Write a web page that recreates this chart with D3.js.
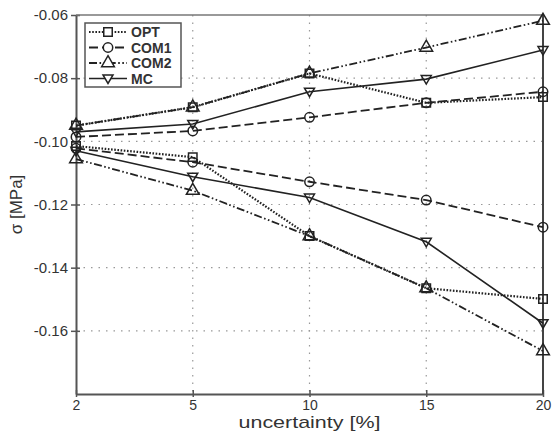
<!DOCTYPE html>
<html>
<head>
<meta charset="utf-8">
<script src="https://cdn.jsdelivr.net/npm/d3@7"></script>
<style>
  body { margin: 0; background: #fff; }
  text { font-family: "Liberation Sans", Arial, sans-serif; fill: #333; }
</style>
</head>
<body>
<svg id="chart" width="557" height="434"></svg>
<script>
// datos
var categorias = ["2", "5", "10", "15", "20"];
var yTicks = [-0.06, -0.08, -0.10, -0.12, -0.14, -0.16];

var optSup  = [-0.0950, -0.0892, -0.0785, -0.0878, -0.0860];
var optInf  = [-0.1015, -0.1050, -0.1300, -0.1465, -0.1499];
var com1Sup = [-0.0986, -0.0967, -0.0924, -0.0878, -0.0843];
var com1Inf = [-0.1022, -0.1066, -0.1128, -0.1186, -0.1272];
var com2Sup = [-0.0950, -0.0892, -0.0785, -0.0703, -0.0618];
var com2Inf = [-0.1056, -0.1156, -0.1300, -0.1465, -0.1664];
var mcSup   = [-0.0970, -0.0945, -0.0843, -0.0803, -0.0711];
var mcInf   = [-0.1030, -0.1112, -0.1178, -0.1318, -0.1576];

var series = [
  { nombre: "OPT",  dash: "1.6,1.6", ancho: 2.2, marca: "square",   datos: [optSup, optInf] },
  { nombre: "COM1", dash: "9,4",     ancho: 1.8, marca: "circle",   datos: [com1Sup, com1Inf] },
  { nombre: "COM2", dash: "8,2.5,1.6,2.5,1.6,2.5", ancho: 1.8, marca: "triangle", datos: [com2Sup, com2Inf] },
  { nombre: "MC",   dash: null,      ancho: 1.6, marca: "triDown",  datos: [mcSup, mcInf] }
];

var margin = { top: 15, right: 14, bottom: 40, left: 76 };
var width = 557, height = 434;
var svg = d3.select("#chart");
var g = svg.append("g").attr("transform", "translate(" + margin.left + "," + margin.top + ")");
var w = width - margin.left - margin.right;
var h = height - margin.top - margin.bottom;

var x = d3.scalePoint().domain(categorias).range([0, w]).padding(0);
var y = d3.scaleLinear().domain([-0.18, -0.06]).range([h, 0]);

// rejilla punteada
g.selectAll(".gy").data(yTicks.slice(1)).enter().append("line")
  .attr("x1", 0).attr("x2", w)
  .attr("y1", d => y(d)).attr("y2", d => y(d))
  .attr("stroke", "#999").attr("stroke-width", 1.2).attr("stroke-dasharray", "1.5,6");
g.selectAll(".gx").data(categorias.slice(1, -1)).enter().append("line")
  .attr("x1", d => x(d)).attr("x2", d => x(d))
  .attr("y1", 0).attr("y2", h)
  .attr("stroke", "#999").attr("stroke-width", 1.2).attr("stroke-dasharray", "1.5,6");

// ejes
var fmt = d => d3.format(".2f")(d).replace("\u2212", "-");
var ejeY = d3.axisLeft(y).tickValues(yTicks).tickFormat(fmt).tickSize(6).tickSizeOuter(0);
var gy = g.append("g").call(ejeY);
gy.select(".domain").attr("stroke", "#555").attr("stroke-width", 2);
gy.selectAll(".tick line").attr("stroke", "#555").attr("stroke-width", 1.5).attr("x2", 4).attr("x1", -5);
gy.selectAll(".tick text").attr("x", -8).style("font-size", "15px").attr("fill", "#333");

var ejeX = d3.axisBottom(x).tickSize(5).tickSizeOuter(0);
var gx = g.append("g").attr("transform", "translate(0," + h + ")").call(ejeX);
gx.select(".domain").attr("stroke", "#555").attr("stroke-width", 2);
gx.selectAll(".tick line").attr("stroke", "#555").attr("stroke-width", 1.5).attr("y1", -4).attr("y2", 3);
gx.selectAll(".tick text").attr("y", 6).style("font-size", "14px").attr("fill", "#333");

// marco superior y derecho
g.append("line").attr("x1", 0).attr("x2", w).attr("y1", 0).attr("y2", 0)
  .attr("stroke", "#777").attr("stroke-width", 1.5);
g.append("line").attr("x1", w).attr("x2", w).attr("y1", 0).attr("y2", h)
  .attr("stroke", "#444").attr("stroke-width", 2);

// titulos de ejes
svg.append("text").attr("x", margin.left + w / 2).attr("y", 428)
  .attr("text-anchor", "middle").style("font-size", "17px")
  .attr("textLength", 142).attr("lengthAdjust", "spacingAndGlyphs")
  .text("uncertainty [%]");
svg.append("text").attr("transform", "translate(22," + (margin.top + h / 2) + ") rotate(-90)")
  .attr("text-anchor", "middle").style("font-size", "17px").text("σ [MPa]");

function simbolo(tipo) {
  if (tipo === "square") return d3.symbol().type(d3.symbolSquare).size(72)();
  if (tipo === "circle") return d3.symbol().type(d3.symbolCircle).size(70)();
  if (tipo === "triangle") return d3.symbol().type(d3.symbolTriangle).size(70)();
  return "M-5,-3.5L5,-3.5L0,5Z";
}

var linea = d3.line().x((d, i) => x(categorias[i])).y(d => y(d));

series.forEach(function (s) {
  s.datos.forEach(function (arr) {
    g.append("path").datum(arr)
      .attr("d", linea)
      .attr("fill", "none").attr("stroke", "#222")
      .attr("stroke-width", s.ancho)
      .attr("stroke-dasharray", s.dash);
    g.selectAll(null).data(arr).enter().append("path")
      .attr("d", simbolo(s.marca))
      .attr("transform", (d, i) => "translate(" + x(categorias[i]) + "," + y(d) + ")")
      .attr("fill", "none").attr("stroke", "#222").attr("stroke-width", 1.5);
  });
});

// leyenda
var ley = svg.append("g").attr("transform", "translate(85,23)");
ley.append("rect").attr("width", 96).attr("height", 64)
  .attr("fill", "#fff").attr("stroke", "#555").attr("stroke-width", 1.5);
series.forEach(function (s, i) {
  var yy = 9 + i * 15.5;
  ley.append("line").attr("x1", 4).attr("x2", 42).attr("y1", yy).attr("y2", yy)
    .attr("stroke", "#222").attr("stroke-width", s.ancho).attr("stroke-dasharray", s.dash);
  ley.append("path").attr("d", simbolo(s.marca)).attr("transform", "translate(23," + yy + ")")
    .attr("fill", "#fff").attr("stroke", "#222").attr("stroke-width", 1.5);
  ley.append("text").attr("x", 46).attr("y", yy + 5)
    .style("font-size", "14px").style("font-weight", "bold").attr("fill", "#222").text(s.nombre);
});
</script>
</body>
</html>
